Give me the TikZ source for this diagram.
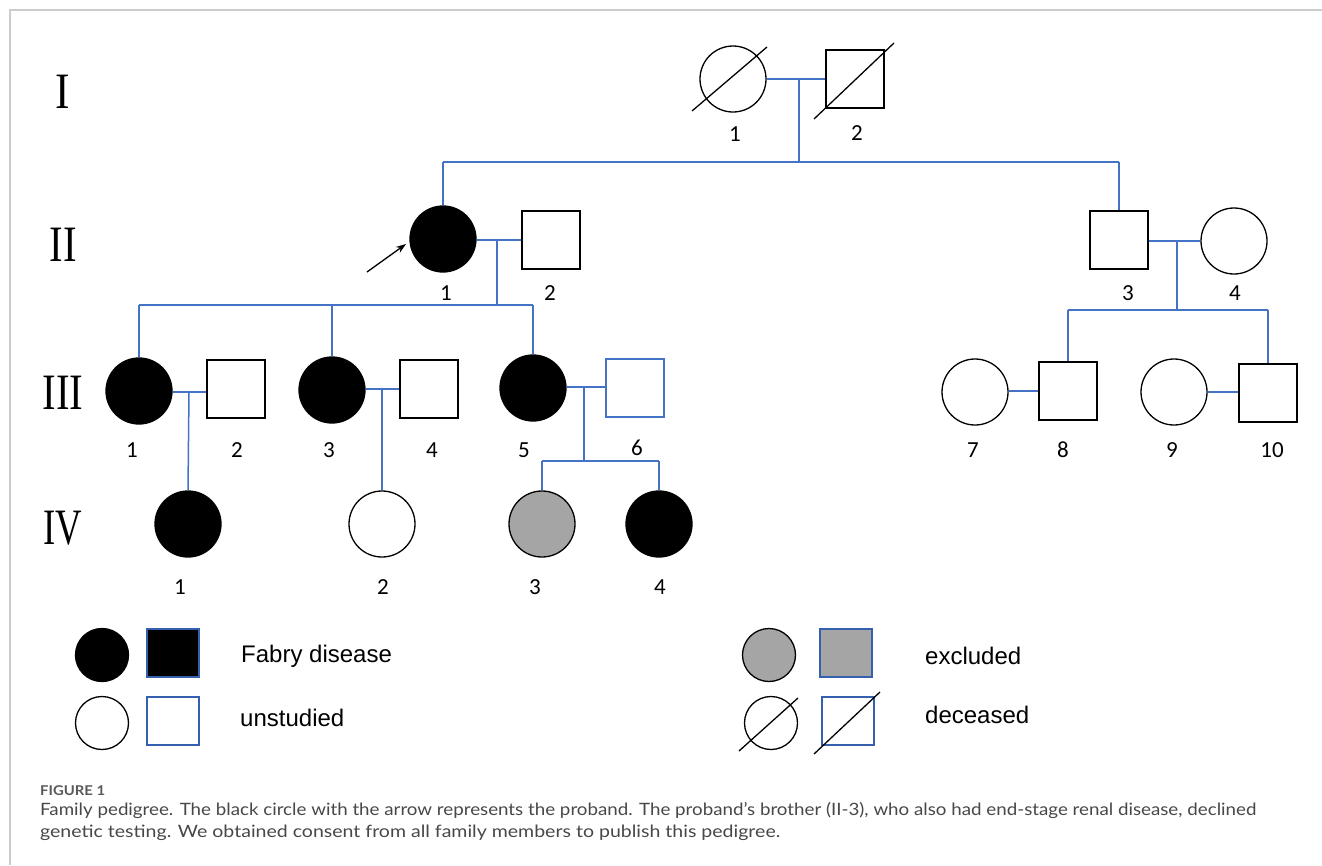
\documentclass[tikz,border=0pt]{standalone}
\usepackage{fontspec}
\setmainfont{Liberation Sans}
\newfontfamily\romanfont{Liberation Serif}
\newfontfamily\labelfont{Carlito}
\newfontfamily\capfont{Lato}
\usetikzlibrary{arrows.meta}
\definecolor{lineblue}{HTML}{4472C4}
\definecolor{sqblue}{HTML}{3560B0}
\definecolor{exgrey}{HTML}{A5A5A5}
\definecolor{framegrey}{HTML}{CCCCCC}
\definecolor{captext}{HTML}{484848}
\begin{document}
\begin{tikzpicture}[x=1pt,y=-1pt,
  fem/.style={circle,draw=black,line width=1.3pt,minimum size=66pt,inner sep=0pt},
  mal/.style={rectangle,draw=black,line width=1.3pt,minimum size=58pt,inner sep=0pt},
  aff/.style={fill=black},
  exc/.style={fill=exgrey},
  bluesq/.style={draw=lineblue},
  rel/.style={draw=lineblue,line width=1.5pt},
  num/.style={font=\labelfont\fontsize{23}{23}\selectfont,inner sep=0pt},
  gen/.style={font=\romanfont\fontsize{51}{51}\selectfont,inner sep=0pt},
  legtxt/.style={font=\fontsize{24}{24}\selectfont,anchor=base west,inner sep=0pt},
  lfem/.style={circle,draw=black,line width=1.3pt,minimum size=53pt,inner sep=0pt},
  lmal/.style={rectangle,draw=sqblue,line width=1.3pt,minimum width=52pt,minimum height=48pt,inner sep=0pt},
  slash/.style={draw=black,line width=1.3pt},
  captxt/.style={font=\capfont\fontsize{17}{17}\selectfont,text=captext,anchor=base west,inner sep=0pt}
]
\useasboundingbox (0,0) rectangle (1322,865);
\fill[white] (0,0) rectangle (1322,865);
% frame
\draw[framegrey,line width=1.5pt] (10,865) -- (10,10) -- (1322,10);

% generation numerals
\node[gen] (gI)   at (63,92)  {\scalebox{0.85}[1]{I}};
\node[gen] (gII)  at (63,245) {\scalebox{0.8}[1]{II}};
\node[gen] (gIII) at (63,393) {\scalebox{0.8}[1]{III}};
\node[gen] (gIV)  at (63,528) {\scalebox{0.72}[1]{IV}};

% Generation I
\node[fem] (i1) at (733,79) {};
\node[mal] (i2) at (855,79) {};
\draw[slash] (i1.center) ++(-41,32) -- ++(75,-64);
\draw[slash] (i2.center) ++(-41,40) -- ++(80,-76);
\node[num] (l-i1) at (735,134) {1};
\node[num] (l-i2) at (857,133) {2};
\coordinate (mI) at (799,79);
\coordinate (sI) at (799,162);
\coordinate (sIl) at (443,162);
\coordinate (sIr) at (1119,162);
\draw[rel] (i1.east) -- (i2.west);
\draw[rel] (mI) -- (sI);
\draw[rel] (sIl) -- (sIr);

% Generation II
\node[fem,aff] (ii1) at (443,239) {};
\node[mal] (ii2) at (551,240) {};
\node[mal] (ii3) at (1119,240) {};
\node[fem] (ii4) at (1234,241) {};
\node[num] (l-ii1) at (446,293) {1};
\node[num] (l-ii2) at (550,293) {2};
\node[num] (l-ii3) at (1128,293) {3};
\node[num] (l-ii4) at (1235,293) {4};
\draw[rel] (sIl) -- (ii1.north);
\draw[rel] (sIr) -- (ii3.north);
\draw[rel] (ii1.east |- 0,240) -- (ii2.west);
\draw[rel] (ii3.east |- 0,241) -- (ii4.west);
\coordinate (mII) at (497,240);
\coordinate (sII) at (497,305);
\coordinate (sIIl) at (139,305);
\coordinate (sIIm) at (332,305);
\coordinate (sIIr) at (533,305);
\draw[rel] (mII) -- (sII);
\draw[rel] (sIIl) -- (sIIr);
\coordinate (mII2) at (1177,241);
\coordinate (sII2) at (1177,310);
\coordinate (sII2l) at (1068,310);
\coordinate (sII2r) at (1268,310);
\draw[rel] (mII2) -- (sII2);
\draw[rel] (sII2l) -- (sII2r);

% proband arrow
\coordinate (arrT) at (367,272);
\coordinate (arrH) at (406,244);
\draw[line width=1.3pt,-{Stealth[length=10pt,width=7pt]}] (arrT) -- (arrH);

% Generation III
\node[fem,aff] (iii1) at (139,391) {};
\node[mal] (iii2) at (236,389) {};
\node[fem,aff] (iii3) at (332,390) {};
\node[mal] (iii4) at (429,389) {};
\node[fem,aff] (iii5) at (533,388) {};
\node[mal,bluesq] (iii6) at (635,388) {};
\node[fem] (iii7) at (975,392) {};
\node[mal] (iii8) at (1068,391) {};
\node[fem] (iii9) at (1174,392) {};
\node[mal] (iii10) at (1268,393) {};
\draw[rel] (sIIl) -- (iii1.north);
\draw[rel] (sIIm) -- (iii3.north);
\draw[rel] (sIIr) -- (iii5.north);
\draw[rel] (sII2l) -- (iii8.north);
\draw[rel] (sII2r) -- (iii10.north);
\draw[rel] (iii1.east |- 0,392) -- (iii2.west |- 0,392);
\draw[rel] (iii3.east |- 0,389) -- (iii4.west |- 0,389);
\draw[rel] (iii5.east |- 0,387) -- (iii6.west |- 0,387);
\draw[rel] (iii7.east |- 0,391) -- (iii8.west |- 0,391);
\draw[rel] (iii9.east |- 0,392) -- (iii10.west |- 0,392);
\node[num] (l-iii1) at (132,450) {1};
\node[num] (l-iii2) at (237,450) {2};
\node[num] (l-iii3) at (329,450) {3};
\node[num] (l-iii4) at (432,450) {4};
\node[num] (l-iii5) at (524,450) {5};
\node[num] (l-iii6) at (637,448) {6};
\node[num] (l-iii7) at (973,450) {7};
\node[num] (l-iii8) at (1063,450) {8};
\node[num] (l-iii9) at (1172,450) {9};
\node[num] (l-iii10) at (1272,450) {10};

% Generation IV
\node[fem,aff] (iv1) at (188,524) {};
\node[fem] (iv2) at (382,524) {};
\node[fem,exc] (iv3) at (542,524) {};
\node[fem,aff] (iv4) at (659,524) {};
\coordinate (mIII1) at (189,392);
\coordinate (mIII3) at (382,389);
\coordinate (mIII5) at (584,387);
\coordinate (sIII5) at (584,461);
\coordinate (sIII5l) at (542,461);
\coordinate (sIII5r) at (659,461);
\draw[rel] (mIII1) -- (iv1.north);
\draw[rel] (mIII3) -- (iv2.north);
\draw[rel] (mIII5) -- (sIII5);
\draw[rel] (sIII5l) -- (sIII5r);
\draw[rel] (sIII5l) -- (iv3.north);
\draw[rel] (sIII5r) -- (iv4.north);
\node[num] (l-iv1) at (180,587) {1};
\node[num] (l-iv2) at (383,587) {2};
\node[num] (l-iv3) at (535,587) {3};
\node[num] (l-iv4) at (660,587) {4};

% Legend
\node[lfem,aff] (lg1) at (102,655) {};
\node[lmal,aff] (lg2) at (173,653) {};
\node[legtxt] (lt1) at (241,662) {Fabry disease};
\node[lfem] (lg3) at (102,723) {};
\node[lmal] (lg4) at (173,721) {};
\node[legtxt] (lt2) at (240,726) {unstudied};
\node[lfem,exc] (lg5) at (769,655) {};
\node[lmal,exc] (lg6) at (846,653) {};
\node[legtxt] (lt3) at (925,664) {excluded};
\node[lfem] (lg7) at (771,723) {};
\node[lmal] (lg8) at (848,721) {};
\draw[slash] (lg7.center) ++(-32,28) -- ++(59,-53);
\draw[slash] (lg8.center) ++(-34,33) -- ++(66,-62);
\node[legtxt] (lt4) at (925,723) {deceased};

% Caption
\node[captxt,font=\capfont\bfseries\fontsize{13.5}{13.5}\selectfont,text=black!65] (fig) at (40,795) {\resizebox{65pt}{\height}{FIGURE 1}};
\node[captxt] (cap1) at (40,815) {\resizebox{1216pt}{\height}{Family pedigree. The black circle with the arrow represents the proband. The proband’s brother (II-3), who also had end-stage renal disease, declined}};
\node[captxt] (cap2) at (40,837) {\resizebox{740pt}{\height}{genetic testing. We obtained consent from all family members to publish this pedigree.}};
\end{tikzpicture}
\end{document}
